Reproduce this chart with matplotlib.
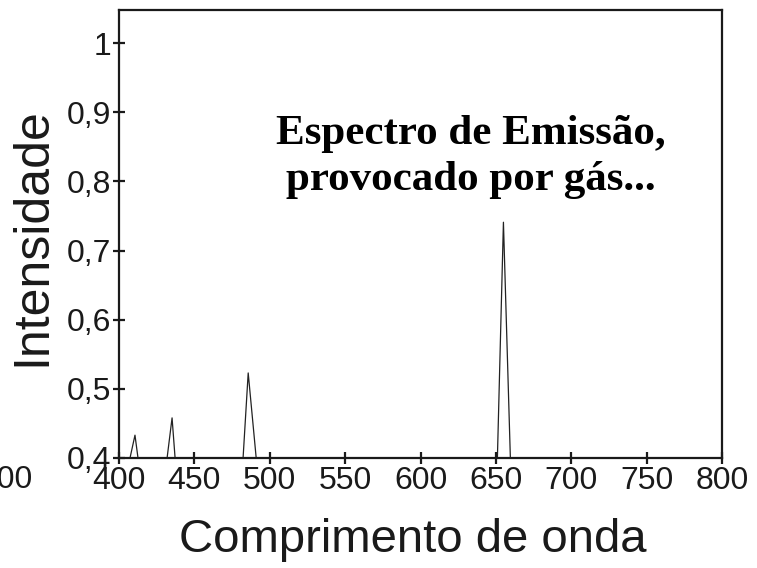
import matplotlib
matplotlib.use("Agg")
import matplotlib.pyplot as plt

# emission spectrum
wavelength = [400, 407.3, 410.6, 412.6, 431.9, 435.2, 437.2, 482.3, 485.7, 491.0,
              651.0, 655.0, 659.6, 800]
intensity = [0.4, 0.4, 0.433, 0.4, 0.4, 0.458, 0.4, 0.4, 0.523, 0.4,
             0.4, 0.741, 0.4, 0.4]

x_ticks = [400, 450, 500, 550, 600, 650, 700, 750, 800]
y_ticks = [0.4, 0.5, 0.6, 0.7, 0.8, 0.9, 1.0]
y_labels = ["0,4", "0,5", "0,6", "0,7", "0,8", "0,9", "1"]

plt.rcParams["font.family"] = ["Liberation Sans", "DejaVu Sans"]

fig = plt.figure(figsize=(7.57, 5.68), dpi=100)
ax = fig.add_axes([0.1572, 0.1937, 0.7966, 0.7887])

ax.plot(wavelength, intensity, color="#222222", linewidth=0.9)

ax.set_xlim(400, 800)
ax.set_ylim(0.4, 1.048)
ax.set_xticks(x_ticks)
ax.set_xticklabels([str(v) for v in x_ticks])
ax.set_yticks(y_ticks)
ax.set_yticklabels(y_labels)

for s in ax.spines.values():
    s.set_linewidth(1.6)
    s.set_color("#1a1a1a")
ax.tick_params(axis="both", direction="inout", length=9, width=1.6,
               labelsize=23, colors="#1a1a1a", pad=1)

ax.set_xlabel("Comprimento de onda", fontsize=34, color="#1a1a1a")
ax.xaxis.set_label_coords(0.4876, -0.135)
ax.set_ylabel("Intensidade", fontsize=36, color="#1a1a1a")
ax.yaxis.set_label_coords(-0.105, 0.495)

ax.text(0.584, 0.672, "Espectro de Emissão,\nprovocado por gás...",
        transform=ax.transAxes, ha="center", va="center", fontsize=31,
        fontweight="bold", family=["Liberation Serif", "DejaVu Serif"],
        linespacing=1.25, color="black")

# cut-off label at the left edge of the original image
fig.text(33 / 757, 1 - 465 / 568, "800", ha="right", va="top", fontsize=23,
         color="#1a1a1a")

fig.savefig("out.png", dpi=100)
